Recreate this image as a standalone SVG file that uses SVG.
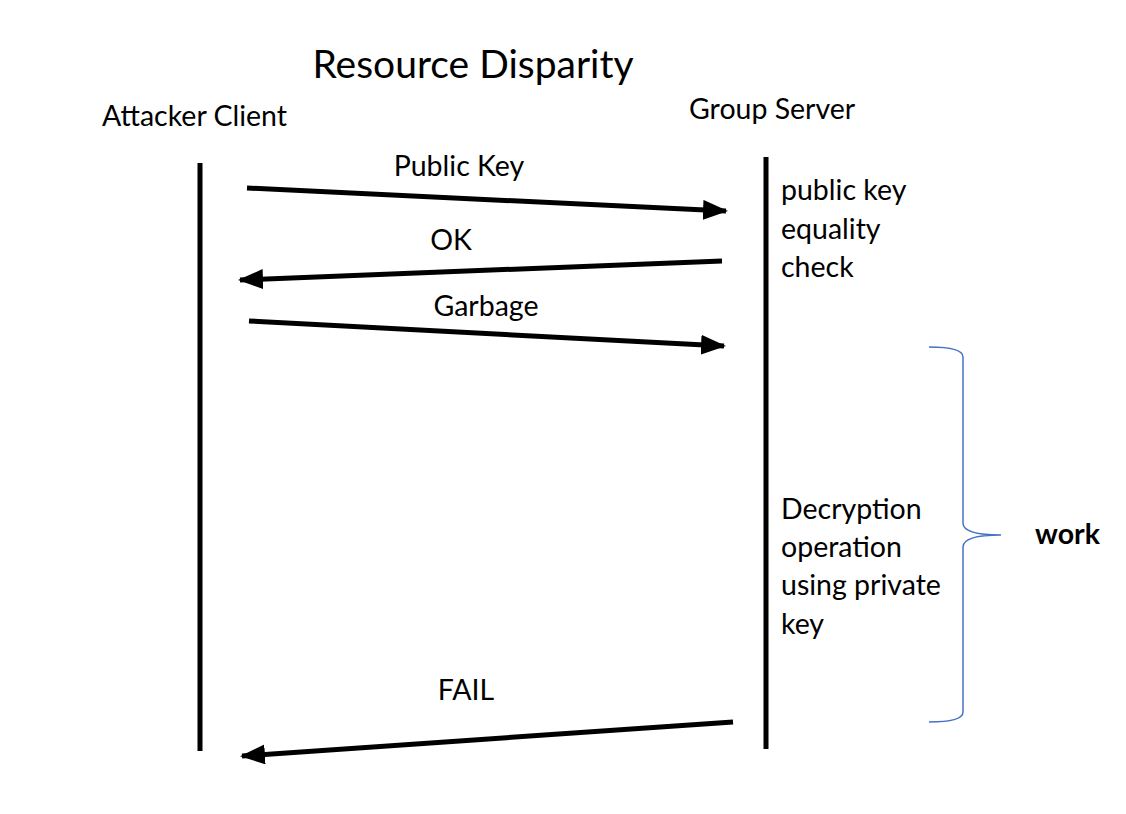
<svg xmlns="http://www.w3.org/2000/svg" width="1126" height="814" viewBox="0 0 1126 814">
<style>
text{font-family:Lato,"Open Sans","Liberation Sans",sans-serif;fill:#000}
.lbl{font-size:28.5px}
.title{font-size:39px}
.life{stroke:#000;stroke-width:5;fill:none}
.msg{stroke:#000;stroke-width:5;fill:none;marker-end:url(#ah)}
.brace{stroke:#4472C4;stroke-width:1.5;fill:none}
</style>
<defs>
<marker id="ah" markerWidth="5" markerHeight="4" refX="4.6" refY="2" orient="auto" markerUnits="strokeWidth">
<path d="M0,0 L5,2 L0,4 z" fill="#000"/>
</marker>
</defs>
<rect width="1126" height="814" fill="#fff"/>
<g id="title"><text class="title" x="473" y="78" text-anchor="middle">Resource Disparity</text></g>
<g id="attacker">
<text class="lbl" x="102" y="126">Attacker Client</text>
<line class="life" x1="200" y1="163" x2="200" y2="751"/>
</g>
<g id="server">
<text class="lbl" x="689" y="119">Group Server</text>
<line class="life" x1="766" y1="157" x2="766" y2="749"/>
</g>
<g id="connectors">
<line class="msg" x1="247" y1="188" x2="726" y2="211"/>
<line class="msg" x1="722" y1="261" x2="240" y2="280"/>
<line class="msg" x1="249" y1="321" x2="724" y2="346"/>
<line class="msg" x1="733" y1="722" x2="242" y2="756"/>
</g>
<g id="labels">
<text class="lbl" x="459" y="176" text-anchor="middle">Public Key</text>
<text class="lbl" x="451" y="250" text-anchor="middle">OK</text>
<text class="lbl" x="486" y="316" text-anchor="middle">Garbage</text>
<text class="lbl" x="466" y="700" text-anchor="middle">FAIL</text>
</g>
<g id="check">
<text class="lbl" x="781" y="200">public key</text>
<text class="lbl" x="781" y="239">equality</text>
<text class="lbl" x="781" y="277">check</text>
</g>
<g id="decrypt">
<text class="lbl" x="781" y="519">Decryption</text>
<text class="lbl" x="781" y="557">operation</text>
<text class="lbl" x="781" y="595">using private</text>
<text class="lbl" x="781" y="634">key</text>
</g>
<g id="work">
<path class="brace" d="M929,347 Q963,347 963,357 L963,523 Q963,535 1001,535 Q963,535 963,547 L963,712 Q963,722 929,722"/>
<text class="lbl" x="1035" y="544" font-weight="bold">work</text>
</g>
</svg>
